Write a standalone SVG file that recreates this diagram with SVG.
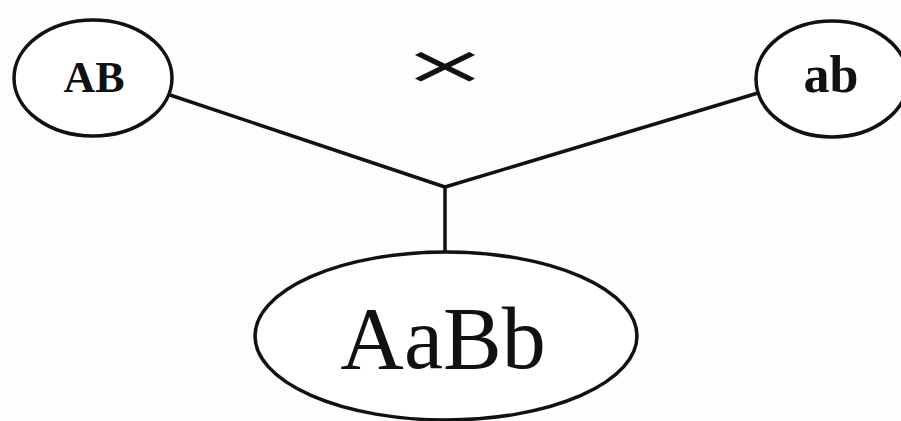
<svg xmlns="http://www.w3.org/2000/svg" width="901" height="421" viewBox="0 0 901 421">
<style>
.n{fill:#fff;stroke:#111;stroke-width:3.5}
.c{stroke:#111;stroke-width:3.5;fill:none}
.t{font-family:"Liberation Serif","DejaVu Serif",serif;fill:#111;text-anchor:middle}
.b{font-weight:bold}
</style>
<rect width="901" height="421" fill="#fdfdfd"/>
<g id="connectors">
<line class="c" x1="170" y1="95" x2="445" y2="187"/>
<line class="c" x1="758" y1="93" x2="445" y2="187"/>
<line class="c" x1="445" y1="186" x2="445" y2="253"/>
</g>
<text class="t" transform="translate(445,90) scale(2.05,1)" font-size="70" stroke="#111" stroke-width="0.6">×</text>
<g id="node-AB">
<ellipse class="n" cx="93" cy="78" rx="79" ry="58"/>
<text class="t b" x="94" y="92" font-size="44">AB</text>
</g>
<g id="node-ab">
<ellipse class="n" cx="832" cy="79" rx="76" ry="58"/>
<text class="t b" x="831" y="92" font-size="52">ab</text>
</g>
<g id="node-AaBb">
<ellipse class="n" cx="446" cy="336" rx="191" ry="84"/>
<text class="t" x="443" y="368" font-size="88">AaBb</text>
</g>
</svg>
